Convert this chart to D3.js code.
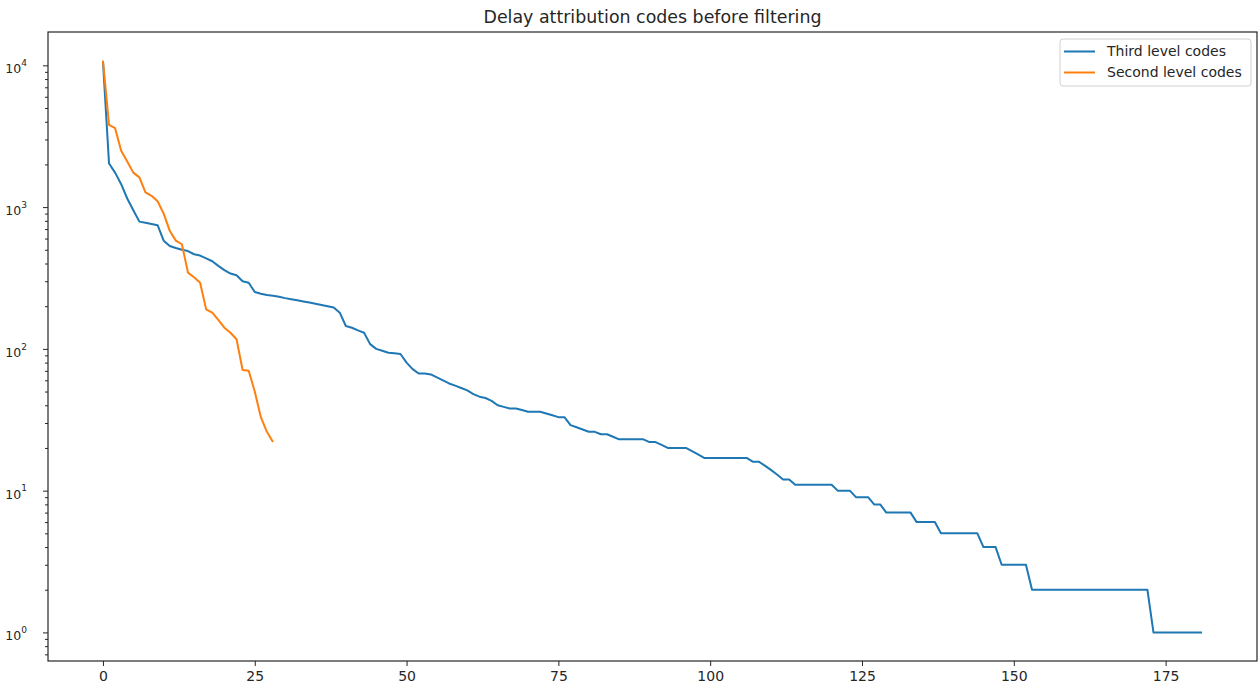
<!DOCTYPE html>
<html>
<head>
<meta charset="utf-8">
<script src="https://cdn.jsdelivr.net/npm/d3@7"></script>
<style>
  body { margin: 0; background: #fff; }
  svg { display: block; font-family: "DejaVu Sans", sans-serif; }
  .tick text { fill: #262626; }
</style>
</head>
<body>
<div id="chart"></div>
<script>
// counts per code, sorted descending (index = rank)
const thirdLevel = [
  10700, 2030, 1750, 1450, 1150, 950, 790, 775, 760, 745,
  580, 532, 515, 500, 490, 465, 455, 435, 415, 385,
  359, 340, 331, 300, 293, 252, 245, 240, 237, 233,
  228, 224, 220, 216, 212, 208, 204, 200, 196, 180,
  145, 141, 135, 130, 108, 100, 97, 94, 93, 92,
  80, 72, 67, 67, 66, 63, 60, 57, 55, 53,
  51, 48, 46, 45, 43, 40, 39, 38, 38, 37,
  36, 36, 36, 35, 34, 33, 33, 29, 28, 27,
  26, 26, 25, 25, 24, 23, 23, 23, 23, 23,
  22, 22, 21, 20, 20, 20, 20, 19, 18, 17,
  17, 17, 17, 17, 17, 17, 17, 16, 16, 15,
  14, 13, 12, 12, 11, 11, 11, 11, 11, 11,
  11, 10, 10, 10, 9, 9, 9, 8, 8, 7,
  7, 7, 7, 7, 6, 6, 6, 6, 5, 5,
  5, 5, 5, 5, 5, 4, 4, 4, 3, 3,
  3, 3, 3, 2, 2, 2, 2, 2, 2, 2,
  2, 2, 2, 2, 2, 2, 2, 2, 2, 2,
  2, 2, 2, 1, 1, 1, 1, 1, 1, 1,
  1, 1
];

const secondLevel = [
  10800, 3800, 3600, 2500, 2100, 1750, 1620, 1270, 1200, 1100,
  900, 680, 580, 547, 345, 320, 293, 190, 180, 160,
  141, 130, 117, 71, 70, 50, 33, 26, 22
];

const seriesNames = ["Third level codes", "Second level codes"];
const seriesColors = ["#1f77b4", "#ff7f0e"];
const xTicks = [0, 25, 50, 75, 100, 125, 150, 175];
const yTicks = [1, 10, 100, 1000, 10000];
const title = "Delay attribution codes before filtering";

const width = 1258;
const height = 688;
const margin = { top: 32, right: 1, bottom: 27, left: 48 };

const series = [thirdLevel, secondLevel];

const svg = d3.select("#chart")
  .append("svg")
  .attr("width", width)
  .attr("height", height);

// matplotlib-style 5% margins
const maxIdx = d3.max(series, s => s.length - 1);
const xPad = maxIdx * 0.05;
const xScale = d3.scaleLinear()
  .domain([-xPad, maxIdx + xPad])
  .range([margin.left, width - margin.right]);

const logMax = Math.log10(d3.max(series, s => d3.max(s)));
const logMin = Math.log10(d3.min(series, s => d3.min(s)));
const yPad = (logMax - logMin) * 0.05;
const yScale = d3.scaleLog()
  .domain([Math.pow(10, logMin - yPad), Math.pow(10, logMax + yPad)])
  .range([height - margin.bottom, margin.top]);

// minor ticks for the log axis
const [y0, y1] = yScale.domain();
const minorTicks = [];
for (let e = Math.floor(Math.log10(y0)); e <= Math.ceil(Math.log10(y1)); e++) {
  for (let m = 2; m <= 9; m++) {
    const v = m * Math.pow(10, e);
    if (v >= y0 && v <= y1) minorTicks.push(v);
  }
}

// lines
const line = d3.line()
  .x((d, i) => xScale(i))
  .y(d => yScale(d));

svg.append("g")
  .selectAll("path")
  .data(series)
  .join("path")
  .attr("fill", "none")
  .attr("stroke", (d, i) => seriesColors[i])
  .attr("stroke-width", 2)
  .attr("stroke-linejoin", "round")
  .attr("d", line);

// x axis
const xAxis = svg.append("g")
  .attr("transform", `translate(0, ${height - margin.bottom})`)
  .call(d3.axisBottom(xScale).tickValues(xTicks).tickSize(5).tickPadding(5).tickFormat(d3.format("d")));
xAxis.select(".domain").remove();
xAxis.selectAll("text").attr("font-size", 14).attr("font-family", "DejaVu Sans");
xAxis.selectAll("line").attr("stroke", "#262626");

// y axis, major
const yAxis = svg.append("g")
  .attr("transform", `translate(${margin.left}, 0)`)
  .call(d3.axisLeft(yScale).tickValues(yTicks).tickSize(5).tickPadding(16).tickFormat(""));
yAxis.select(".domain").remove();
yAxis.selectAll("line").attr("stroke", "#262626");
yAxis.selectAll(".tick text")
  .attr("font-size", 12.5)
  .attr("font-family", "DejaVu Sans")
  .attr("dy", "0.6em")
  .each(function (d) {
    const t = d3.select(this);
    t.append("tspan").text("10");
    t.append("tspan")
      .attr("font-size", 9)
      .attr("dy", "-0.8em")
      .text(Math.round(Math.log10(d)));
  });

// y axis, minor
const yMinor = svg.append("g")
  .attr("transform", `translate(${margin.left}, 0)`)
  .call(d3.axisLeft(yScale).tickValues(minorTicks).tickSize(3).tickFormat(""));
yMinor.select(".domain").remove();
yMinor.selectAll("line").attr("stroke", "#262626");

// frame
svg.append("rect")
  .attr("x", margin.left)
  .attr("y", margin.top)
  .attr("width", width - margin.left - margin.right)
  .attr("height", height - margin.top - margin.bottom)
  .attr("fill", "none")
  .attr("stroke", "#262626")
  .attr("stroke-width", 1.2);

// title
svg.append("text")
  .attr("x", (margin.left + width - margin.right) / 2)
  .attr("y", 23)
  .attr("text-anchor", "middle")
  .attr("font-size", 17.4)
  .attr("fill", "#262626")
  .text(title);

// legend
const legend = svg.append("g").attr("transform", "translate(1060, 39)");
legend.append("rect")
  .attr("width", 191)
  .attr("height", 47)
  .attr("rx", 3)
  .attr("fill", "#fff")
  .attr("fill-opacity", 0.8)
  .attr("stroke", "#d0d0d0");

const items = legend.selectAll("g.item")
  .data(seriesNames)
  .join("g")
  .attr("class", "item")
  .attr("transform", (d, i) => `translate(0, ${12.5 + i * 21})`);

items.append("line")
  .attr("x1", 4).attr("x2", 35)
  .attr("stroke", (d, i) => seriesColors[i])
  .attr("stroke-width", 2);

items.append("text")
  .attr("x", 47)
  .attr("dy", "0.35em")
  .attr("font-size", 14)
  .attr("fill", "#262626")
  .text(d => d);
</script>
</body>
</html>
